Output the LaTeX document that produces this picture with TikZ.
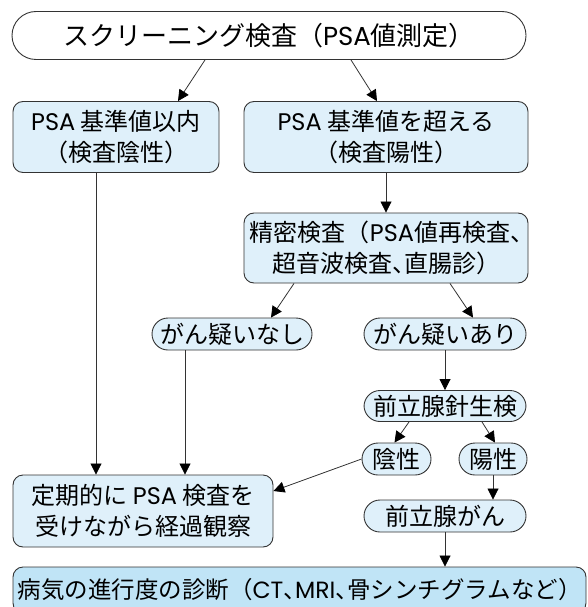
\documentclass[tikz,border=0pt]{standalone}
\usepackage{fontspec}
\setmainfont{Noto Sans CJK JP}
\newfontfamily\poppins{Poppins}
\newfontfamily\halfpunct{Noto Sans CJK JP}[RawFeature=+halt]
\newcommand\en[1]{{\poppins #1}}
\newcommand\tn{{\halfpunct 、}}
\usetikzlibrary{arrows.meta}
\definecolor{paleblue}{HTML}{DFF0FA}
\definecolor{deepblue}{HTML}{C0E4F6}
\begin{document}
\begin{tikzpicture}[x=1pt,y=-1pt,
    box/.style={draw=black!80,line width=0.9pt,fill=paleblue,rounded corners=10pt,inner sep=0pt,align=center,
      font=\fontsize{24}{31}\selectfont},
    pill/.style={box,rounded corners=16pt,minimum height=32pt},
    arr/.style={draw=black!80,line width=0.8pt,-{Triangle[length=11pt,width=11pt,black]}}]
  \useasboundingbox (0,0) rectangle (588,607);
  \node[box,fill=white,rounded corners=24pt,minimum width=514pt,minimum height=48pt,font=\fontsize{26}{31}\selectfont] (screen) at (269,35.5) {スクリーニング検査（\en{PSA}値測定）};
  \node[box,minimum width=206pt,minimum height=71pt] (within) at (116,137) {\en{PSA} 基準値以内\\（検査陰性）};
  \node[box,minimum width=284pt,minimum height=71pt] (over) at (386,137) {\en{PSA} 基準値を超える\\（検査陽性）};
  \node[box,minimum width=284pt,minimum height=70pt] (detail) at (386,248) {精密検査（\en{PSA}値再検査\tn\\超音波検査\tn 直腸診）};
  \node[pill,minimum width=160pt] (nosus) at (232,334) {がん疑いなし};
  \node[pill,minimum width=162pt] (sus) at (445,334) {がん疑いあり};
  \node[pill,minimum width=162pt,minimum height=31pt] (biopsy) at (445,406) {前立腺針生検};
  \node[pill,minimum width=69pt] (bneg) at (396.5,459) {陰性};
  \node[pill,minimum width=68pt] (bpos) at (493,459) {陽性};
  \node[box,minimum width=260pt,minimum height=72pt] (follow) at (143,511) {定期的に \en{PSA} 検査を\\受けながら経過観察};
  \node[pill,minimum width=162pt] (cancer) at (445,516) {前立腺がん};
  \node[box,fill=deepblue,minimum width=573pt,minimum height=46pt,font=\fontsize{23.5}{31}\selectfont] (stage) at (299.5,590) {病気の進行度の診断（\en{CT}\tn\en{MRI}\tn 骨シンチグラムなど）};
  \draw[arr] ([xshift=-64pt]screen.south) -- ([xshift=62pt]within.north);
  \draw[arr] ([xshift=82pt]screen.south) -- ([xshift=-9pt]over.north);
  \draw[arr] ([xshift=-20pt]within.south) -- ([xshift=-20pt]within.south |- follow.north);
  \draw[arr] (over) -- (detail);
  \draw[arr] ([xshift=-92pt]detail.south) -- ([xshift=39pt]nosus.north);
  \draw[arr] ([xshift=64pt]detail.south) -- ([xshift=28pt]sus.north);
  \draw[arr] ([xshift=-47pt]nosus.south) -- ([xshift=-47pt]nosus.south |- follow.north);
  \draw[arr] (sus) -- (biopsy);
  \draw[arr] ([xshift=-36pt]biopsy.south) -- ([xshift=-2pt]bneg.north);
  \draw[arr] ([xshift=37pt]biopsy.south) -- ([xshift=2pt]bpos.north);
  \draw[arr] (bneg.west) -- ([yshift=20pt]follow.east);
  \draw[arr] (bpos.south) -- (bpos.south |- cancer.north);
  \draw[arr] (cancer.south) -- (cancer.south |- stage.north);
\end{tikzpicture}
\end{document}
